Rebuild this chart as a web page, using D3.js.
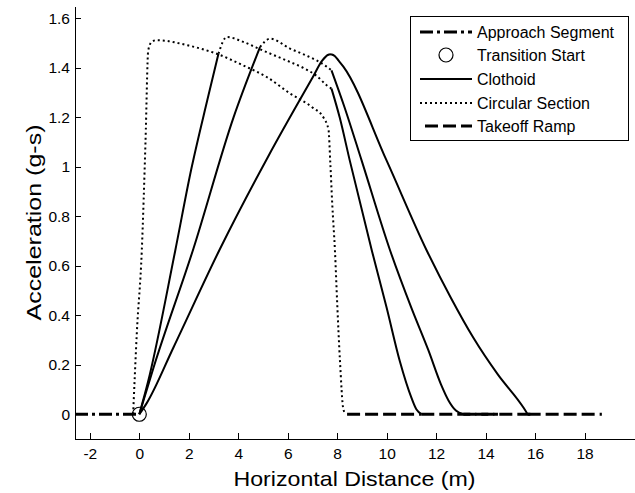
<!DOCTYPE html>
<html lang="en">
<head>
    <meta charset="UTF-8">
    <title>Acceleration vs Horizontal Distance</title>
    <script src="https://d3js.org/d3.v7.min.js"></script>
    <style>
        body { margin: 0; background: #fff; }
        svg { display: block; }
        .axis path, .axis line { fill: none; stroke: #000; stroke-width: 1px; shape-rendering: crispEdges; }
        .axis text { font-family: "Liberation Sans", Arial, sans-serif; font-size: 15.5px; fill: #000; }
        .title { font-family: "Liberation Sans", Arial, sans-serif; font-size: 21px; fill: #000; }
        .legend text { font-family: "Liberation Sans", Arial, sans-serif; font-size: 16px; fill: #000; }
        .curve { fill: none; stroke: #000; }
    </style>
</head>
<body>
<div id="chart"></div>
<script>
    // values: [distance (m), acceleration (g)]
    const approach = [[-2.6, 0], [0, 0]];
    const transitionStart = [[0, 0]];

    const clothoidUp = [
        [[0, 0], [0.35, 0.13], [1.45, 0.66], [2.1, 0.99], [2.75, 1.27], [3.2, 1.457]],
        [[0, 0], [0.58, 0.19], [2.19, 0.67], [3.81, 1.2], [4.88, 1.484]],
        [[0, 0], [0.3, 0.045], [1.38, 0.27], [3.27, 0.67], [5.2, 1.04], [7.0, 1.36], [7.4, 1.43], [7.62, 1.452], [7.75, 1.455]]
    ];

    const circular = [
        [[-0.25, 0], [-0.1, 0.33], [0.1, 0.66], [0.25, 1.1], [0.36, 1.47], [0.5, 1.505], [0.7, 1.512], [2, 1.49],
         [3.13, 1.457], [4.2, 1.41], [5.15, 1.363], [6.1, 1.296], [7.0, 1.24], [7.44, 1.2], [7.65, 1.15],
         [7.72, 1.02], [7.8, 0.85], [7.91, 0.66], [8.0, 0.45], [8.11, 0.22], [8.25, 0.02], [8.35, 0]],
        [[3.2, 1.457], [3.54, 1.525], [4.2, 1.505], [5.0, 1.47], [6.09, 1.424], [6.63, 1.4], [7.2, 1.365], [7.57, 1.33], [7.77, 1.316]],
        [[4.88, 1.484], [5.29, 1.518], [6.09, 1.478], [6.7, 1.452], [7.17, 1.43], [7.5, 1.41], [7.77, 1.39]]
    ];

    const clothoidDown = [
        [[7.77, 1.316], [8.1, 1.2], [8.51, 1.025], [9.4, 0.662], [10.0, 0.43], [10.53, 0.215], [11.0, 0.067], [11.2, 0.02], [11.41, 0]],
        [[7.77, 1.39], [8.3, 1.24], [8.99, 1.025], [10.14, 0.662], [11.0, 0.43], [11.69, 0.258], [12.2, 0.12], [12.5, 0.056], [12.8, 0.015], [13.1, 0]],
        [[7.75, 1.455], [7.9, 1.448], [8.05, 1.43], [8.25, 1.405], [10.0, 1.025], [11.62, 0.662], [12.6, 0.47], [13.5, 0.31], [14.5, 0.16], [15.53, 0.027], [15.7, 0]]
    ];

    const takeoffRamp = [
        [[8.4, 0], [11.4, 0]],
        [[11.4, 0], [14.5, 0]],
        [[13.1, 0], [16.0, 0]],
        [[15.7, 0], [18.7, 0]]
    ];

    const xTicks = [-2, 0, 2, 4, 6, 8, 10, 12, 14, 16, 18];
    const yTicks = [0, 0.2, 0.4, 0.6, 0.8, 1, 1.2, 1.4, 1.6];
    const legendLabels = ["Approach Segment", "Transition Start", "Clothoid", "Circular Section", "Takeoff Ramp"];

    const W = 635, H = 493;
    const x = d3.scaleLinear().domain([-2.6, 20]).range([75, 634]);
    const y = d3.scaleLinear().domain([-0.1, 1.65]).range([439, 6]);

    const styles = {
        approach: { width: 3, dash: "13,4,3,4" },
        clothoid: { width: 2, dash: null },
        circular: { width: 2, dash: "2,3" },
        ramp: { width: 3, dash: "13,5" }
    };

    const svg = d3.select("#chart").append("svg")
        .attr("width", W)
        .attr("height", H);

    svg.append("g")
        .attr("class", "axis")
        .attr("transform", `translate(0,${y(-0.1)})`)
        .call(d3.axisBottom(x).tickValues(xTicks).tickSizeInner(-6).tickSizeOuter(0).tickPadding(9)
            .tickFormat(d => d));

    svg.append("g")
        .attr("class", "axis")
        .attr("transform", `translate(${x(-2.6)},0)`)
        .call(d3.axisLeft(y).tickValues(yTicks).tickSizeInner(-6).tickSizeOuter(0).tickPadding(5)
            .tickFormat(d => String(+d.toFixed(1))));

    svg.append("text")
        .attr("class", "title")
        .attr("x", (x(-2.6) + x(20)) / 2)
        .attr("y", 486)
        .attr("text-anchor", "middle")
        .attr("textLength", 242)
        .attr("lengthAdjust", "spacingAndGlyphs")
        .text("Horizontal Distance (m)");

    svg.append("text")
        .attr("class", "title")
        .attr("transform", `translate(41,${(y(-0.1) + y(1.65)) / 2}) rotate(-90)`)
        .attr("text-anchor", "middle")
        .attr("textLength", 196)
        .attr("lengthAdjust", "spacingAndGlyphs")
        .text("Acceleration (g-s)");

    const line = d3.line()
        .x(d => x(d[0]))
        .y(d => y(d[1]))
        .curve(d3.curveMonotoneX);

    function draw(data, st) {
        svg.append("path")
            .datum(data)
            .attr("class", "curve")
            .attr("stroke-width", st.width)
            .attr("stroke-dasharray", st.dash)
            .attr("d", line);
    }

    takeoffRamp.forEach(d => draw(d, styles.ramp));
    circular.forEach(d => draw(d, styles.circular));
    clothoidUp.forEach(d => draw(d, styles.clothoid));
    clothoidDown.forEach(d => draw(d, styles.clothoid));
    draw(approach, styles.approach);

    svg.selectAll(".marker")
        .data(transitionStart)
        .enter().append("circle")
        .attr("class", "marker")
        .attr("cx", d => x(d[0]))
        .attr("cy", d => y(d[1]))
        .attr("r", 7)
        .attr("fill", "none")
        .attr("stroke", "#000")
        .attr("stroke-width", 1.2);

    // legend
    const legend = svg.append("g").attr("class", "legend");
    legend.append("rect")
        .attr("x", 410.5).attr("y", 16.5)
        .attr("width", 218).attr("height", 124)
        .attr("fill", "#fff").attr("stroke", "#000");

    const rowY = [32, 55, 79, 103, 126];
    const legendStyle = [styles.approach, null, styles.clothoid, styles.circular, styles.ramp];

    legendLabels.forEach((label, i) => {
        const st = legendStyle[i];
        if (st) {
            legend.append("line")
                .attr("x1", i === 4 ? 425 : 420).attr("x2", 472)
                .attr("y1", rowY[i]).attr("y2", rowY[i])
                .attr("stroke", "#000")
                .attr("stroke-width", st.width)
                .attr("stroke-dasharray", st.dash);
        } else {
            legend.append("circle")
                .attr("cx", 446).attr("cy", rowY[i]).attr("r", 7)
                .attr("fill", "none").attr("stroke", "#000").attr("stroke-width", 1.2);
        }
        legend.append("text")
            .attr("x", 477)
            .attr("y", rowY[i])
            .attr("dy", "0.35em")
            .text(label);
    });
</script>
</body>
</html>
